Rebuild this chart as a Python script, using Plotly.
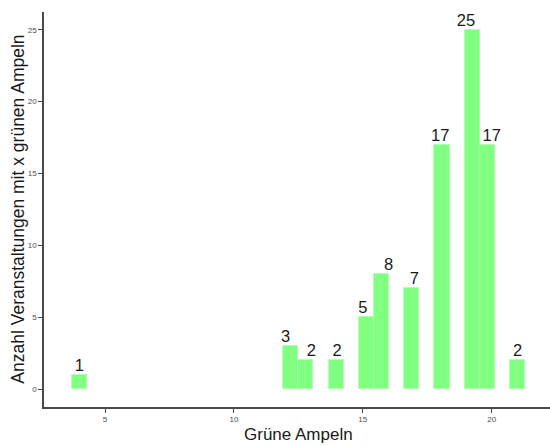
import numpy as np
import plotly.graph_objects as go

# Data: number of green lights (x) and count of events with that many green lights
gruene_ampeln = [4, 12, 13, 14, 15, 16, 17, 18, 19, 20, 21]
anzahl = [1, 3, 2, 2, 5, 8, 7, 17, 25, 17, 2]

x_ticks = [5, 10, 15, 20]
y_ticks = [0, 5, 10, 15, 20, 25]

# raw observations reconstructed from counts
raw = np.repeat(gruene_ampeln, anzahl)

# ggplot-style histogram: 30 bins over the data range, centred on the min
n_bins = 30
lo, hi = min(gruene_ampeln), max(gruene_ampeln)
bw = (hi - lo) / (n_bins - 1)

fig = go.Figure()
fig.add_trace(go.Histogram(
    x=raw,
    xbins=dict(start=lo - bw / 2, end=hi + bw / 2, size=bw),
    marker=dict(color="#80ff80", line=dict(color="#a8ffa8", width=0.8)),
    hoverinfo="skip",
    showlegend=False,
))
fig.add_trace(go.Scatter(
    x=gruene_ampeln,
    y=anzahl,
    mode="text",
    text=[str(v) for v in anzahl],
    textposition="top center",
    textfont=dict(family="Liberation Sans, Arial, sans-serif", size=16.5, color="#1a1a1a"),
    cliponaxis=True,
    showlegend=False,
    hoverinfo="skip",
))

axis_common = dict(
    showgrid=False,
    zeroline=False,
    showline=True,
    linecolor="#4a4a4a",
    linewidth=1.5,
    ticks="outside",
    ticklen=4,
    tickwidth=1,
    tickcolor="#4a4a4a",
    tickfont=dict(family="Liberation Sans, Arial, sans-serif", size=8, color="#4d4d4d"),
)

fig.update_layout(
    width=550,
    height=446,
    margin=dict(l=44, r=0, t=12, b=39, autoexpand=False),
    paper_bgcolor="white",
    plot_bgcolor="white",
    bargap=0,
    xaxis=dict(range=[2.634, 22.26], tickvals=x_ticks, **axis_common),
    yaxis=dict(range=[-1.25, 26.24], tickvals=y_ticks, **axis_common),
    font=dict(family="Liberation Sans, Arial, sans-serif"),
    annotations=[
        dict(text="Grüne Ampeln", xref="paper", yref="paper", x=0.503, y=-0.07,
             xanchor="center", yanchor="middle", showarrow=False,
             font=dict(size=17, color="#1a1a1a")),
        dict(text="Anzahl Veranstaltungen mit x grünen Ampeln", xref="paper", yref="paper",
             x=-0.053, y=0.5, xanchor="center", yanchor="middle", textangle=-90,
             showarrow=False, font=dict(size=17.5, color="#1a1a1a")),
    ],
)

fig.write_html(
    "out.html",
    config={"displayModeBar": False},
    post_script="document.body.style.margin='0';document.body.style.padding='0';",
)
